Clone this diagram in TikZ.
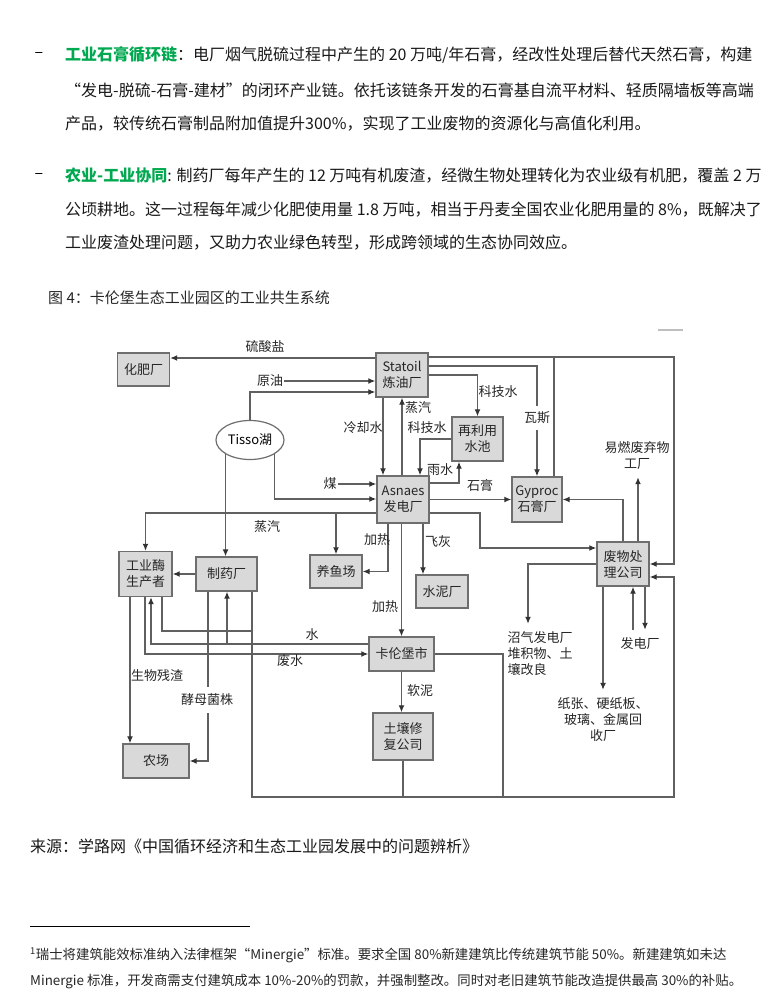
\documentclass[tikz,border=0pt]{standalone}
\usepackage{fontspec}
\setmainfont{Noto Sans CJK SC}
\usetikzlibrary{shapes.geometric, arrows.meta}
\XeTeXlinebreaklocale "zh"
\XeTeXlinebreakskip=0pt plus 1pt minus 0.2pt
\setlength\parindent{0pt}
\definecolor{keygreen}{RGB}{0,168,80}
\definecolor{linegray}{RGB}{96,96,96}
\definecolor{boxgray}{RGB}{217,217,217}
\definecolor{edgegray}{RGB}{110,110,110}
\newcommand\dfont{\fontsize{13}{16}\selectfont}
\newcommand\fullline{\parfillskip=0pt\relax}

\begin{document}
\begin{tikzpicture}[
      x=1pt, y=-1pt,
      unit/.style={rectangle, draw=edgegray, fill=boxgray, line width=1.4pt, align=center, inner sep=0, minimum width=52pt, minimum height=33pt, text=black!85, font=\dfont},
      tall/.style={unit, minimum height=45pt},
      lake/.style={ellipse, draw=edgegray, fill=white, line width=1.2pt, minimum width=68pt, minimum height=39pt, inner sep=0, font=\dfont},
      tag/.style={inner sep=1pt, text=black!85, font=\dfont},
      site/.style={align=center, inner sep=8pt, text=black!85, font=\dfont},
      flow/.style={draw=linegray, line width=1.3pt, ->},
      pipe/.style={draw=linegray, line width=1.3pt},
      >={Latex[length=7pt, width=6pt, color=black!80]},
      para/.style={anchor=west, inner sep=0, text width=697pt, align=justify, text=black!90, font=\fontsize{16}{20}\selectfont},
      note/.style={anchor=west, inner sep=0, text width=732pt, align=justify, text=black!85, font=\fontsize{13.4}{18}\selectfont}
      ]
      \useasboundingbox (0,0) rectangle (781,1008);
      \fill[white] (0,0) rectangle (781,1008);

      % Text
      \node[anchor=center, font=\fontsize{16}{20}\selectfont] (dash1) at (39,55) {–};
      \node[para] (p1a) at (65,55) {\fullline{\color{keygreen}\bfseries 工业石膏循环链}：电厂烟气脱硫过程中产生的 20 万吨/年石膏，经改性处理后替代天然石膏，构建};
      \node[para] (p1b) at (65,90) {\fullline “发电-脱硫-石膏-建材”的闭环产业链。依托该链条开发的石膏基自流平材料、轻质隔墙板等高端};
      \node[para] (p1c) at (65,124) {产品，较传统石膏制品附加值提升300\%，实现了工业废物的资源化与高值化利用。};
      \node[anchor=center, font=\fontsize{16}{20}\selectfont] (dash2) at (39,176) {–};
      \node[para] (p2a) at (65,176) {\fullline{\color{keygreen}\bfseries 农业-工业协同}: 制药厂每年产生的 12 万吨有机废渣，经微生物处理转化为农业级有机肥，覆盖 2 万};
      \node[para] (p2b) at (65,210) {\fullline 公顷耕地。这一过程每年减少化肥使用量 1.8 万吨，相当于丹麦全国农业化肥用量的 8\%，既解决了};
      \node[para] (p2c) at (65,243) {工业废渣处理问题，又助力农业绿色转型，形成跨领域的生态协同效应。};
      \node[anchor=west, inner sep=0, text=black!85, font=\fontsize{15}{18}\selectfont] (cap) at (48,298) {图 4：卡伦堡生态工业园区的工业共生系统};
      \node[anchor=west, inner sep=0, text=black!90, font=\fontsize{16}{20}\selectfont] (src) at (30,846) {来源：学路网《中国循环经济和生态工业园发展中的问题辨析》};
      \draw[line width=1pt] (30,926) -- (250,926);
      \node[note] (fn1) at (30,955) {\fullline\textsuperscript{1}瑞士将建筑能效标准纳入法律框架“Minergie”标准。要求全国 80\%新建建筑比传统建筑节能 50\%。新建建筑如未达};
      \node[note] (fn2) at (30,982) {\fullline Minergie 标准，开发商需支付建筑成本 10\%-20\%的罚款，并强制整改。同时对老旧建筑节能改造提供最高 30\%的补贴。};

      % Nodes
      \node[unit] (fert) at (143.5,369.5) {化肥厂};
      \node[tall, minimum height=44pt] (statoil) at (402,375) {Statoil\\炼油厂};
      \node[tall, minimum width=51pt, minimum height=44pt] (reuse) at (477.5,439) {再利用\\水池};
      \node[tall, minimum height=47pt] (asnaes) at (403,499.5) {Asnaes\\发电厂};
      \node[tall, minimum width=50pt] (gyproc) at (537,499.5) {Gyproc\\石膏厂};
      \node[tall, minimum height=44pt] (waste) at (623,564) {废物处\\理公司};
      \node[tall, minimum width=53pt] (enzyme) at (145.5,574) {工业酶\\生产者};
      \node[unit, minimum width=61pt, minimum height=34pt] (pharma) at (226.5,574) {制药厂};
      \node[unit] (fish) at (336,571.5) {养鱼场};
      \node[unit] (cement) at (442,591.5) {水泥厂};
      \node[unit, minimum width=65pt, minimum height=34pt] (city) at (401.5,654) {卡伦堡市};
      \node[tall, minimum width=60pt, minimum height=47pt] (soil) at (403,736.5) {土壤修\\复公司};
      \node[unit, minimum width=66pt, minimum height=34pt] (farm) at (156,761) {农场};
      \node[lake] (tisso) at (250,440) {Tisso湖};

      % Sources and sinks without box
      \node[tag] (oil) at (270,381) {原油};
      \node[tag] (coal) at (330,484) {煤};
      \node[site] (fuel) at (637,455) {易燃废弃物\\工厂};
      \node[site, align=left] (biogas) at (540,654) {沼气发电厂\\堆积物、土\\壤改良};
      \node[site] (recycle) at (603,720) {纸张、硬纸板、\\玻璃、金属回\\收厂};
      \node[site] (power) at (640,644) {发电厂};

      \coordinate (ne) at (674,357);
      \coordinate (fishin) at (336,513);
      \coordinate (waterin) at (227,644);
      \coordinate (sw) at (252,797);
      \coordinate (se) at (674,797);

      % Arrows
      \draw[flow] (statoil.west |- 0,358) -- (fert.east |- 0,358);
      \draw[flow] (oil) -- (statoil.west |- oil);
      \draw[flow] (tisso.north) |- (statoil.west |- 0,392);
      \draw[flow] (tisso.south east) |- (asnaes.west |- 0,499);
      \draw[flow] (coal) -- (asnaes.west |- coal);
      \draw[flow] (tisso.south west) -- (pharma.north -| tisso.south west);
      \draw[flow] (statoil.south -| 383,0) -- (asnaes.north -| 383,0);
      \draw[flow] (asnaes.north -| 402,0) -- (statoil.south -| 402,0);
      \draw[flow] (statoil.east) -| (reuse.north);
      \draw[flow] (statoil.east |- 0,366) -| (gyproc.north);
      \draw[flow] (statoil.east |- ne) -- (ne) |- (waste.east);
      \draw[pipe] (gyproc.north -| 554,0) |- (ne);
      \draw[flow] (reuse.west) -| (asnaes.north -| 420,0);
      \draw[flow] (asnaes.east |- 0,483) -| (reuse.south -| 459,0);
      \draw[flow] (asnaes) -- (gyproc);
      \draw[flow] (asnaes.east |- 0,513) -| (480,548) -- (waste.west |- 0,548);
      \draw[flow] (waste.north) |- (gyproc.east);
      \draw[flow] (waste.north -| 638,0) -- (fuel.south -| 638,0);
      \draw[flow] (waste.west) -| (biogas.north -| 528,0);
      \draw[flow] (waste.south -| 603,0) -- (recycle.north -| 603,0);
      \draw[flow] (power.north -| 633,0) -- (waste.south -| 633,0);
      \draw[flow] (waste.south -| 645,0) -- (power.north -| 645,0);
      \draw[flow] (asnaes.west |- 0,513) -| (enzyme.north);
      \draw[flow] (fishin) -- (fish.north);
      \draw[flow] (asnaes.south -| 388,0) |- (fish.east);
      \draw[flow] (asnaes.south -| city.north) -- (city.north);
      \draw[flow] (asnaes.south -| 423,0) -- (cement.north -| 423,0);
      \draw[flow] (pharma) -- (enzyme);
      \draw[flow] (city.west |- 0,644) -| (enzyme.south -| 151,0);
      \draw[flow] (waterin) -- (pharma.south -| waterin);
      \draw[flow] (enzyme.south -| 145,0) |- (city.west);
      \draw[pipe] (enzyme.south -| 162,0) |- (252,631);
      \draw[flow] (pharma.south -| 252,0) -- (sw) -- (se) |- (waste.east |- 0,577);
      \draw[flow] (enzyme.south -| 130,0) -- (farm.north -| 130,0);
      \draw[flow] (pharma.south -| 208,0) |- (farm.east);
      \draw[flow] (city.south) -- (soil.north -| city.south);
      \draw[pipe] (soil.south) -- (soil.south |- sw);
      \draw[pipe] (city.east) -| (503,797);
      \draw[gray!50, line width=1.5pt] (658,330) -- (683,330);

      % Labels
      \node[tag] (lbsulf) at (265,347) {硫酸盐};
      \node[tag] (lbcool) at (363,428) {冷却水};
      \node[tag] (lbsteam) at (418,408) {蒸汽};
      \node[tag] (lbtechl) at (427,428) {科技水};
      \node[tag] (lbtechr) at (498,392) {科技水};
      \node[tag, fill=white, inner ysep=6pt] (lbgas) at (537,418) {瓦斯};
      \node[tag] (lbrain) at (440,470) {雨水};
      \node[tag] (lbgyps) at (480,486) {石膏};
      \node[tag] (lbsteam2) at (267,527) {蒸汽};
      \node[tag] (lbheat) at (377,540) {加热};
      \node[tag] (lbheat2) at (385,607) {加热};
      \node[tag] (lbash) at (438,542) {飞灰};
      \node[tag] (lbwater) at (312,635) {水};
      \node[tag] (lbwaste) at (290,661) {废水};
      \node[tag] (lbbio) at (157,676) {生物残渣};
      \node[tag, fill=white, inner ysep=7pt] (lbyeast) at (207,700) {酵母菌株};
      \node[tag] (lbsludge) at (420,691) {软泥};
    \end{tikzpicture}
\end{document}
